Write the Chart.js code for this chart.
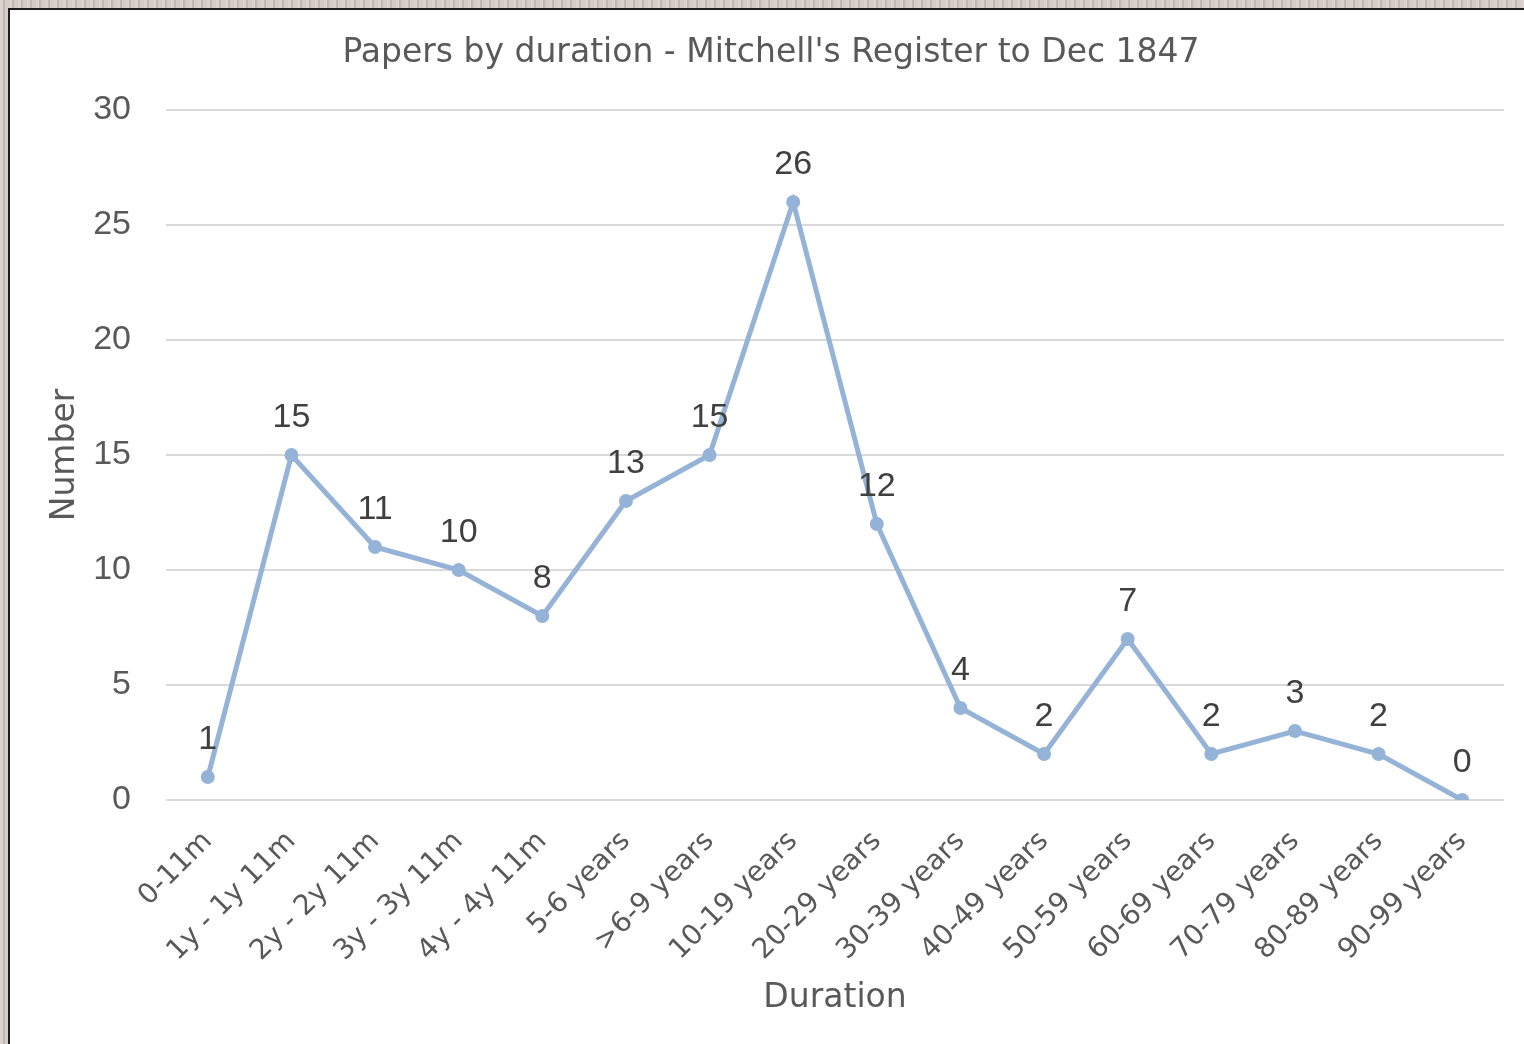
<!DOCTYPE html>
<html>
<head>
<meta charset="utf-8">
<script src="https://cdn.jsdelivr.net/npm/chart.js@4"></script>
<style>
  html, body { margin: 0; padding: 0; }
  body {
    width: 1524px; height: 1044px; overflow: hidden;
    background: #cdc3bd;
    background-image: repeating-linear-gradient(90deg, rgba(255,255,255,0.25) 0 3px, rgba(0,0,0,0.06) 3px 5px, rgba(255,255,255,0.15) 5px 9px);
  }
  #frame {
    position: absolute; left: 8px; top: 8px; width: 1516px; height: 1036px;
    background: #ffffff; border-left: 2px solid #1e1e1e; border-top: 2px solid #1e1e1e;
  }
  canvas { display: block; }
</style>
</head>
<body>
<div id="frame"><canvas id="c" width="1514" height="1034"></canvas></div>
<script>
const categories = ["0-11m", "1y - 1y 11m", "2y - 2y 11m", "3y - 3y 11m", "4y - 4y 11m", "5-6 years", ">6-9 years", "10-19 years", "20-29 years", "30-39 years", "40-49 years", "50-59 years", "60-69 years", "70-79 years", "80-89 years", "90-99 years"];
const numbers = [1, 15, 11, 10, 8, 13, 15, 26, 12, 4, 2, 7, 2, 3, 2, 0];
const yTicks = [0, 5, 10, 15, 20, 25, 30];
const chartTitle = "Papers by duration - Mitchell's Register to Dec 1847";
const xTitle = "Duration";
const yTitle = "Number";

const FONT = "'DejaVu Sans', sans-serif";
const NUMFONT = "'Liberation Sans', Arial, sans-serif";

const dataLabels = {
  id: 'dataLabels',
  afterDatasetsDraw(chart) {
    const ctx = chart.ctx;
    const meta = chart.getDatasetMeta(0);
    ctx.save();
    ctx.font = "34px " + NUMFONT;
    ctx.fillStyle = "#404040";
    ctx.textAlign = "center";
    ctx.textBaseline = "middle";
    meta.data.forEach((pt, i) => {
      ctx.fillText(String(numbers[i]), pt.x, pt.y - 37);
    });
    ctx.restore();
  }
};

new Chart(document.getElementById('c'), {
  type: 'line',
  data: {
    labels: categories,
    datasets: [{
      data: numbers,
      borderColor: '#95b3d7',
      backgroundColor: '#95b3d7',
      borderWidth: 5,
      pointRadius: 7,
      pointHoverRadius: 7,
      pointBackgroundColor: '#95b3d7',
      pointBorderWidth: 0,
      tension: 0
    }]
  },
  options: {
    responsive: false,
    devicePixelRatio: 1,
    animation: false,
    events: [],
    layout: { padding: { left: 28, right: 20, top: 0, bottom: 0 } },
    plugins: {
      legend: { display: false },
      tooltip: { enabled: false },
      title: {
        display: true,
        text: chartTitle,
        color: '#595959',
        font: { family: FONT, size: 33, weight: 'normal', lineHeight: 1.2 },
        padding: { top: 24, bottom: 36.4 }
      }
    },
    scales: {
      x: {
        offset: true,
        grid: { display: false, drawTicks: false },
        border: { display: false },
        ticks: {
          color: '#595959',
          font: { family: FONT, size: 28 },
          minRotation: 45, maxRotation: 45,
          padding: 25,
          autoSkip: false
        },
        title: {
          display: true, text: xTitle, color: '#595959',
          font: { family: FONT, size: 33, lineHeight: 1.2 },
          padding: { top: 0, bottom: 26 }
        },
        afterFit(scale) { scale.height = 244; }
      },
      y: {
        min: 0, max: 30,
        afterBuildTicks(scale) { scale.ticks = yTicks.map(v => ({ value: v })); },
        grid: { color: '#d9d9d9', lineWidth: 2, drawTicks: false },
        border: { display: false },
        ticks: {
          color: '#595959',
          font: { family: NUMFONT, size: 34 },
          padding: 35
        },
        title: {
          display: true, text: yTitle, color: '#595959',
          font: { family: FONT, size: 33, lineHeight: 1.2 },
          padding: { top: 8, bottom: 0 }
        },
        afterFit(scale) { scale.width = 128; }
      }
    }
  },
  plugins: [dataLabels]
});
</script>
</body>
</html>
